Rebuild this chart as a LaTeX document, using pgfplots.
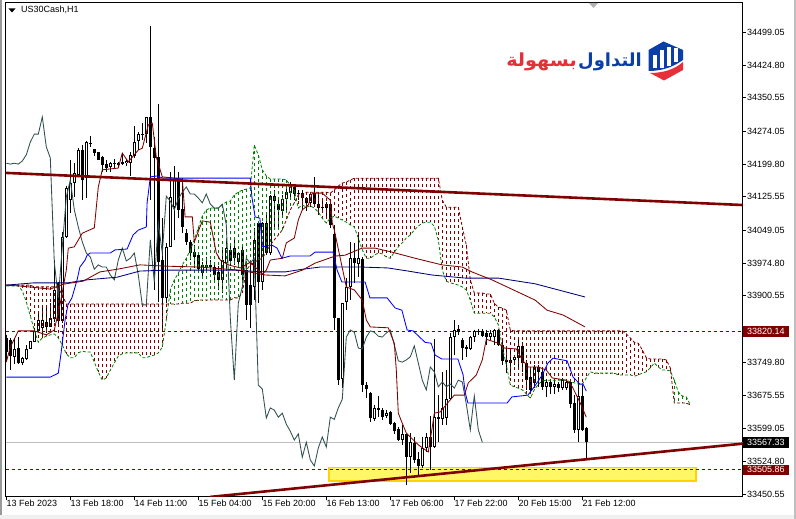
\documentclass[border=0pt]{standalone}
\usepackage{pgfplots}
\pgfplotsset{compat=1.18}
\usepackage{pgfplotstable}
\usepackage{fontspec}
\setmainfont{Liberation Sans}
\newfontfamily\arabicfont[Script=Arabic]{DejaVu Sans}
\TeXXeTstate=1
\definecolor{mtred}{HTML}{800000}
\definecolor{mtgreen}{HTML}{008000}
\definecolor{mtblue}{HTML}{0000FF}
\definecolor{mtnavy}{HTML}{000080}
\definecolor{mtslate}{HTML}{2F4F4F}
\definecolor{logoblue}{HTML}{0B3FA8}
\definecolor{logored}{HTML}{E5303A}
\pgfplotstableread{
x o h l c
0 33805 33812 33750 33773
1 33800 33805 33732 33764
2 33762 33805 33746 33780
3 33782 33807 33746 33748
4 33748 33762 33744 33760
5 33758 33789 33755 33780
6 33780 33798 33780 33798
7 33795 33828 33795 33821
8 33821 33861 33821 33846
9 33828 33880 33812 33846
10 33841 33880 33816 33830
11 33830 33884 33830 33850
12 33848 33982 33841 33914
13 33930 33932 33835 33844
14 33844 34045 33839 34034
15 34034 34150 34032 34146
16 34118 34209 34089 34157
17 34157 34202 34125 34180
18 34175 34236 34173 34232
19 34232 34243 34118 34164
20 34168 34252 34123 34250
21 34248 34264 34239 34246
22 34234 34234 34218 34225
23 34227 34227 34209 34209
24 34216 34218 34182 34198
25 34200 34209 34182 34191
26 34193 34205 34182 34202
27 34202 34211 34191 34200
28 34198 34205 34193 34202
29 34205 34225 34198 34200
30 34202 34211 34196 34207
31 34202 34227 34173 34221
32 34218 34286 34214 34250
33 34252 34273 34232 34268
34 34266 34293 34255 34268
35 34268 34307 34248 34307
36 34307 34514 34118 34239
37 34236 34261 33914 34214
38 34216 34337 33887 33977
39 33982 34077 33818 33896
40 33896 34021 33884 34012
41 34012 34182 34012 34125
42 34102 34196 34028 34164
43 34166 34182 34077 34096
44 34098 34168 34043 34057
45 34043 34052 34016 34023
46 34023 34028 33982 33998
47 34000 34016 33964 33989
48 33993 33998 33952 33961
49 33952 33977 33941 33971
50 33971 33989 33955 33966
51 33971 33982 33955 33966
52 33966 33977 33930 33948
53 33955 33968 33914 33937
54 33937 34005 33907 33982
55 33975 34028 33964 34009
56 34005 34016 33971 33980
57 34009 34028 33971 33986
58 33977 34000 33966 33998
59 34005 34016 33937 33948
60 33959 33971 33846 33880
61 33925 33982 33828 33880
62 33921 34055 33891 34028
63 34066 34068 33884 33932
64 33932 34068 33914 34066
65 34066 34089 33993 33998
66 33998 34130 33993 34127
67 34127 34141 34050 34116
68 34109 34125 34057 34096
69 34093 34130 34082 34121
70 34121 34150 34089 34136
71 34134 34159 34125 34148
72 34148 34150 34118 34132
73 34134 34141 34118 34132
74 34134 34141 34096 34123
75 34123 34125 34093 34112
76 34112 34136 34102 34132
77 34134 34171 34102 34109
78 34109 34130 34084 34100
79 34102 34118 34091 34100
80 34100 34114 34080 34109
81 34109 34112 34055 34062
82 34041 34062 33823 33850
83 33850 33850 33698 33709
84 33711 33884 33691 33884
85 33887 33941 33868 33921
86 33921 34023 33891 33986
87 33986 34021 33930 33975
88 33973 34043 33943 33986
89 33984 33989 33682 33698
90 33698 33705 33668 33689
91 33680 33682 33614 33623
92 33620 33652 33616 33646
93 33646 33673 33625 33641
94 33641 33646 33618 33625
95 33627 33641 33623 33634
96 33637 33639 33607 33609
97 33611 33614 33586 33593
98 33598 33603 33571 33573
99 33573 33607 33562 33587
100 33587 33587 33471 33534
101 33534 33589 33498 33568
102 33566 33580 33521 33528
103 33530 33546 33489 33514
104 33514 33580 33510 33555
105 33555 33589 33546 33580
106 33580 33627 33505 33557
107 33557 33802 33555 33625
108 33625 33675 33568 33620
109 33620 33728 33607 33646
110 33623 33732 33607 33666
111 33666 33816 33664 33807
112 33807 33846 33766 33823
113 33825 33834 33812 33818
114 33800 33805 33755 33782
115 33784 33789 33762 33780
116 33780 33809 33778 33807
117 33807 33823 33795 33821
118 33821 33825 33812 33818
119 33821 33825 33807 33809
120 33816 33823 33789 33807
121 33807 33823 33800 33816
122 33807 33825 33789 33823
123 33823 33825 33787 33789
124 33789 33800 33744 33753
125 33755 33782 33725 33750
126 33748 33778 33718 33755
127 33755 33764 33744 33762
128 33760 33800 33737 33787
129 33787 33796 33728 33748
130 33748 33755 33687 33709
131 33716 33732 33682 33687
132 33703 33744 33691 33739
133 33739 33744 33694 33728
134 33728 33732 33687 33694
135 33694 33709 33671 33705
136 33705 33709 33678 33694
137 33694 33709 33678 33700
138 33700 33705 33682 33691
139 33691 33714 33687 33709
140 33691 33709 33687 33705
141 33705 33709 33646 33655
142 33657 33675 33589 33596
143 33596 33716 33568 33673
144 33673 33698 33593 33596
145 33600 33603 33530 33568
}\candles
\pgfplotstableread{
x a b
0 33923 33925
1 33923 33925
2 33923 33925
3 33923 33925
4 33912 33925
5 33887 33925
6 33855 33925
7 33823 33921
8 33795 33921
9 33805 33921
10 33809 33921
11 33812 33921
12 33814 33921
13 33805 33918
14 33789 33903
15 33769 33882
16 33760 33882
17 33760 33882
18 33771 33882
19 33775 33882
20 33773 33882
21 33773 33882
22 33750 33882
23 33728 33882
24 33709 33882
25 33714 33882
26 33732 33882
27 33748 33882
28 33764 33882
29 33769 33882
30 33771 33882
31 33771 33882
32 33771 33882
33 33771 33882
34 33760 33882
35 33760 33882
36 33764 33882
37 33766 33882
38 33771 33882
39 33784 33882
40 33846 33882
41 33914 33882
42 33937 33882
43 33952 33882
44 33971 33884
45 33986 33884
46 34005 33884
47 34028 33889
48 34055 33891
49 34082 33891
50 34096 33891
51 34100 33891
52 34100 33891
53 34100 33891
54 34107 33891
55 34114 33891
56 34116 33891
57 34130 33896
58 34136 33896
59 34141 33907
60 34143 33959
61 34146 33971
62 34243 33977
63 34221 33982
64 34187 33986
65 34173 34000
66 34166 34016
67 34166 34028
68 34166 34039
69 34166 34050
70 34164 34073
71 34152 34096
72 34141 34112
73 34100 34130
74 34107 34130
75 34102 34136
76 34105 34136
77 34100 34136
78 34091 34136
79 34077 34136
80 34066 34136
81 34077 34134
82 34082 34141
83 34077 34150
84 34073 34157
85 34068 34159
86 34062 34164
87 34057 34168
88 34032 34168
89 34005 34168
90 33986 34168
91 33986 34168
92 33993 34168
93 33998 34168
94 33996 34168
95 33989 34168
96 33986 34168
97 34000 34168
98 34012 34168
99 34021 34168
100 34032 34168
101 34039 34168
102 34050 34168
103 34059 34168
104 34066 34168
105 34068 34168
106 34068 34168
107 34059 34168
108 34028 34168
109 33959 34118
110 33934 34102
111 33930 34102
112 33928 34102
113 33925 34102
114 33921 34057
115 33914 34016
116 33891 33937
117 33861 33907
118 33861 33907
119 33861 33907
120 33861 33905
121 33861 33905
122 33853 33884
123 33835 33875
124 33784 33873
125 33744 33868
126 33698 33823
127 33694 33821
128 33691 33821
129 33687 33821
130 33678 33821
131 33668 33821
132 33687 33821
133 33700 33821
134 33707 33821
135 33709 33821
136 33709 33821
137 33709 33821
138 33709 33821
139 33709 33821
140 33709 33821
141 33705 33821
142 33703 33821
143 33700 33821
144 33700 33821
145 33714 33821
146 33728 33821
147 33725 33821
148 33725 33821
149 33725 33821
150 33725 33821
151 33725 33821
152 33725 33821
153 33721 33821
154 33721 33821
155 33721 33814
156 33721 33805
157 33718 33795
158 33721 33793
159 33725 33778
160 33728 33760
161 33737 33757
162 33748 33757
163 33739 33757
164 33732 33757
165 33732 33755
166 33730 33737
167 33709 33657
168 33682 33657
169 33673 33657
170 33671 33657
171 33653 33653
}\cloud
\pgfplotsset{
 hatch/.style 2 args={draw=none,no markers,restrict x to domain=#1,
  error bars/.cd,y dir=minus,y explicit,error mark=none,
  error bar style={solid,#2,line width=.75pt,dash pattern=on 3pt off 3pt}},
 wickbar/.style={draw=none,no markers,
  error bars/.cd,y dir=minus,y explicit,error mark=none,
  error bar style={solid,black,line width=#1}}
}
\begin{document}
\begin{tikzpicture}[x=1pt,y=1pt]
\path[use as bounding box,fill=white] (0,0) rectangle (796,519);
\fill[black!40] (0,0) rectangle (1.5,519);
\fill[black!6] (0,0) rectangle (796,3.5);
\fill[black!25] (793.5,0) rectangle (796,519);
\begin{axis}[
 at={(5.7pt,22pt)},anchor=south west,scale only axis,width=737pt,height=494.7pt,
 xmin=-0.15,xmax=184.1,ymin=33443.6,ymax=34567.6,
 axis line style={black,line width=1pt},
 tick style={black,line width=.8pt},tick align=outside,major tick length=3.5pt,
 xtick={0,16,...,144},
 xticklabels={13 Feb 2023,13 Feb 18:00,14 Feb 11:00,15 Feb 04:00,15 Feb 20:00,16 Feb 13:00,17 Feb 06:00,17 Feb 22:00,20 Feb 15:00,21 Feb 12:00},
 xtick pos=bottom,
 xticklabel style={anchor=base west,font=\fontsize{9}{10}\selectfont,inner sep=0pt,xshift=0.2pt,yshift=-6.5pt},
 ytick={34499.05,34424.80,34350.55,34274.05,34199.80,34125.55,34049.05,33974.80,33900.55,33749.80,33675.55,33599.05,33524.80,33450.55},
 yticklabels={34499.05,34424.80,34350.55,34274.05,34199.80,34125.55,34049.05,33974.80,33900.55,33749.80,33675.55,33599.05,33524.80,33450.55},
 ytick pos=right,yticklabel pos=right,
 yticklabel style={anchor=west,font=\fontsize{9}{10}\selectfont,inner sep=0pt,xshift=0.8pt},
 clip mode=global,
 after end axis/.code={
  \node[anchor=west,fill=mtred,text=white,font=\fontsize{9}{10}\selectfont,minimum width=46pt,minimum height=11pt,inner sep=1.5pt] at (axis cs:184.1,33820.14) {33820.14};
  \node[anchor=west,fill=black,text=white,font=\fontsize{9}{10}\selectfont,minimum width=46pt,minimum height=10.5pt,inner sep=1.5pt] at (axis cs:184.1,33567.33) {33567.33};
  \node[anchor=west,fill=mtred,text=white,font=\fontsize{9}{10}\selectfont,minimum width=46pt,minimum height=10pt,inner sep=1.5pt] at (axis cs:184.1,33505.86) {33505.86};
 },
]
% support zone
\addplot[fill=yellow!60!white,draw=orange!35!yellow,line width=1.3pt] coordinates {(80.7,33511) (172.4,33511) (172.4,33480) (80.7,33480) (80.7,33511)};
% price lines
\addplot[color=black!25,line width=.9pt] coordinates {(-0.15,33567.33) (184.1,33567.33)};
\addplot[color=mtred,line width=.8pt,dash pattern=on 3pt off 3pt] coordinates {(-0.15,33820.14) (184.1,33820.14)};
\addplot[color=mtred,line width=.8pt,dash pattern=on 3pt off 3pt] coordinates {(-0.15,33505.86) (184.1,33505.86)};
% candles
\addplot[wickbar=1pt] table[x=x,y=h,y error minus expr=\thisrow{h}-\thisrow{l}]{\candles};
\addplot[wickbar=3.2pt] table[x=x,y expr={max(\thisrow{o},\thisrow{c})},y error minus expr={abs(\thisrow{o}-\thisrow{c})}]{\candles};
\addplot[draw=none,no markers,error bars/.cd,y dir=minus,y explicit,error mark=none,error bar style={solid,white,line width=1.2pt}] table[x=x,y expr=\thisrow{c}-2.3,y error minus expr={max(\thisrow{c}-\thisrow{o}-4.6,0)}]{\candles};
% cloud hatching
\addplot[hatch={0:40}{mtred}] table[x=x,y=b,y error minus expr=\thisrow{b}-\thisrow{a}]{\cloud};
\addplot[hatch={41:72}{mtgreen}] table[x=x,y=a,y error minus expr=\thisrow{a}-\thisrow{b}]{\cloud};
\addplot[hatch={73:166}{mtred}] table[x=x,y=b,y error minus expr=\thisrow{b}-\thisrow{a}]{\cloud};
\addplot[hatch={167:171}{mtgreen}] table[x=x,y=a,y error minus expr=\thisrow{a}-\thisrow{b}]{\cloud};
\addplot[color=mtgreen,line width=.8pt,dash pattern=on 3pt off 2pt,no markers] table[x=x,y=a]{\cloud};
\addplot[color=mtred,line width=.8pt,dash pattern=on 3pt off 2pt,no markers] table[x=x,y=b]{\cloud};
% chikou: the close, shown 26 bars back
\addplot[color=mtslate,line width=.85pt,no markers,restrict x to domain=0:200] table[x expr=\thisrow{x}-26,y=c]{\candles};
% moving averages
\addplot[color=mtnavy,line width=.85pt,no markers] coordinates {(0,33925)(6.7,33930)(15.2,33930)(20.2,33937)(27.7,33943)(33.4,33957)(40.2,33959)(56.7,33959)(64.7,33955)(69.7,33955)(74,33961)(78.4,33966)(88.9,33966)(95.4,33964)(100.4,33957)(106.4,33948)(114.7,33941)(123,33941)(132.2,33928)(144.7,33898)};
\addplot[color=mtred,line width=.85pt,no markers] coordinates {(0,33925)(3.4,33923)(11,33916)(14.2,33927)(19.2,33934)(23.4,33955)(27.7,33961)(33.4,33971)(40.2,33968)(48.4,33966)(58.4,33959)(64.7,33948)(69.7,33946)(74,33959)(77.2,33975)(82.2,33991)(84.7,33993)(88.9,34009)(92.2,34009)(96.4,34000)(102.2,33986)(108.9,33971)(114,33966)(116.4,33955)(121.4,33937)(132.2,33891)(135.2,33868)(139.2,33857)(144.7,33830)};
% tenkan
\addplot[color=mtred,line width=.85pt,no markers] coordinates {(0,33750)(1,33784)(3,33821)(7,33821)(10,33812)(12,33823)(13.5,33884)(15,33959)(15.5,34009)(17,34012)(19,34043)(22,34055)(23,34148)(24,34187)(28,34191)(29,34225)(30.5,34205)(33,34232)(34,34236)(35.5,34289)(36.5,34293)(37.5,34216)(39,34171)(44,34166)(44.7,34080)(46.5,34080)(47,34023)(49,34071)(51,34068)(52.5,33998)(53.5,33982)(55.5,33971)(58.5,33964)(61,33977)(64,33950)(65,33959)(66,33982)(69,33986)(70,34021)(72,34032)(73,34073)(74,34096)(75.5,34107)(76.5,34134)(79,34134)(81,34118)(81.5,34066)(82,34050)(85,33921)(87,33914)(89,33891)(90,33846)(91,33830)(95.5,33828)(97,33793)(97.5,33732)(98,33634)(99,33611)(100,33589)(103,33562)(105.5,33546)(106.5,33603)(107,33634)(108.5,33637)(110.5,33659)(112,33675)(114.5,33675)(115.5,33703)(117.5,33721)(119,33755)(120,33802)(123,33793)(124.5,33782)(127.5,33780)(129,33755)(130.5,33739)(133,33739)(135,33732)(136.5,33714)(140,33709)(141.5,33694)(143.5,33657)(145,33625)};
% kijun
\addplot[color=mtblue,line width=.85pt,no markers] coordinates {(0,33716)(11,33716)(13,33725)(13.7,33771)(14.7,33846)(15.4,33880)(16.4,33896)(17.7,33937)(18.4,33966)(19.7,33982)(20.2,33993)(21,33998)(26,33998)(27.2,34005)(30.2,34007)(31.7,34039)(33,34050)(35,34057)(35.2,34112)(35.7,34148)(36,34171)(37.7,34173)(39.2,34168)(61,34168)(61.4,34125)(62.2,34080)(63.4,34077)(64,34012)(66.4,34016)(67.7,34009)(68.9,33986)(70.9,33991)(75.9,33991)(77.2,34000)(81.7,34000)(82.7,33959)(83.9,33932)(89.7,33932)(90.9,33896)(95.2,33896)(97.2,33873)(98.9,33868)(100.2,33823)(101.7,33821)(104.7,33795)(106.2,33793)(107.2,33766)(108.9,33757)(112.9,33757)(114.2,33721)(114.7,33682)(115.4,33657)(125.2,33657)(126.4,33671)(130.4,33675)(132,33694)(134,33721)(135.4,33748)(136.7,33759)(140.2,33753)(141.7,33716)(143.4,33700)(144.2,33700)(145,33684)};
% trend lines
\addplot[color=mtred,line width=2.6pt] coordinates {(-0.15,34180) (184.1,34107)};
\addplot[color=mtred,line width=2.6pt] coordinates {(50.9,33443.7) (184.1,33564.8)};
\end{axis}
% chart caption and marker
\fill[black] (8.5,510.5) -- (15.5,510.5) -- (12,506.5) -- cycle;
\node[anchor=west,inner sep=0pt,font=\fontsize{9}{10}\selectfont] at (21,509) {US30Cash,H1};
\fill[black!30] (589,516) -- (598,516) -- (593.5,511) -- cycle;
% logo
\begin{scope}[y=-1pt,yshift=519pt]
\fill[logoblue] (663.5,41.5) -- (683,50) -- (683,60) .. controls (672,68) and (660,71) .. (648.5,71) -- (648.5,50) -- cycle;
\fill[white] (653,55) rectangle (657,68.5);
\fill[white] (660,50.5) rectangle (664,68);
\fill[white] (667,47.5) rectangle (671,66);
\fill[white] (674,48) rectangle (677.5,62);
\fill[logored] (683,62) -- (683,70) -- (664,80.5) -- (650,73) .. controls (664,73) and (675,69) .. (683,62) -- cycle;
\node[anchor=east,inner sep=0pt,text=logoblue,font=\arabicfont\bfseries\fontsize{18}{20}\selectfont] at (642,62) {\beginR التداول\endR};
\node[anchor=east,inner sep=0pt,text=logored,xscale=1.07,font=\arabicfont\bfseries\fontsize{18}{20}\selectfont] at (577,62) {\beginR بسهولة\endR};
\end{scope}
\end{tikzpicture}
\end{document}
